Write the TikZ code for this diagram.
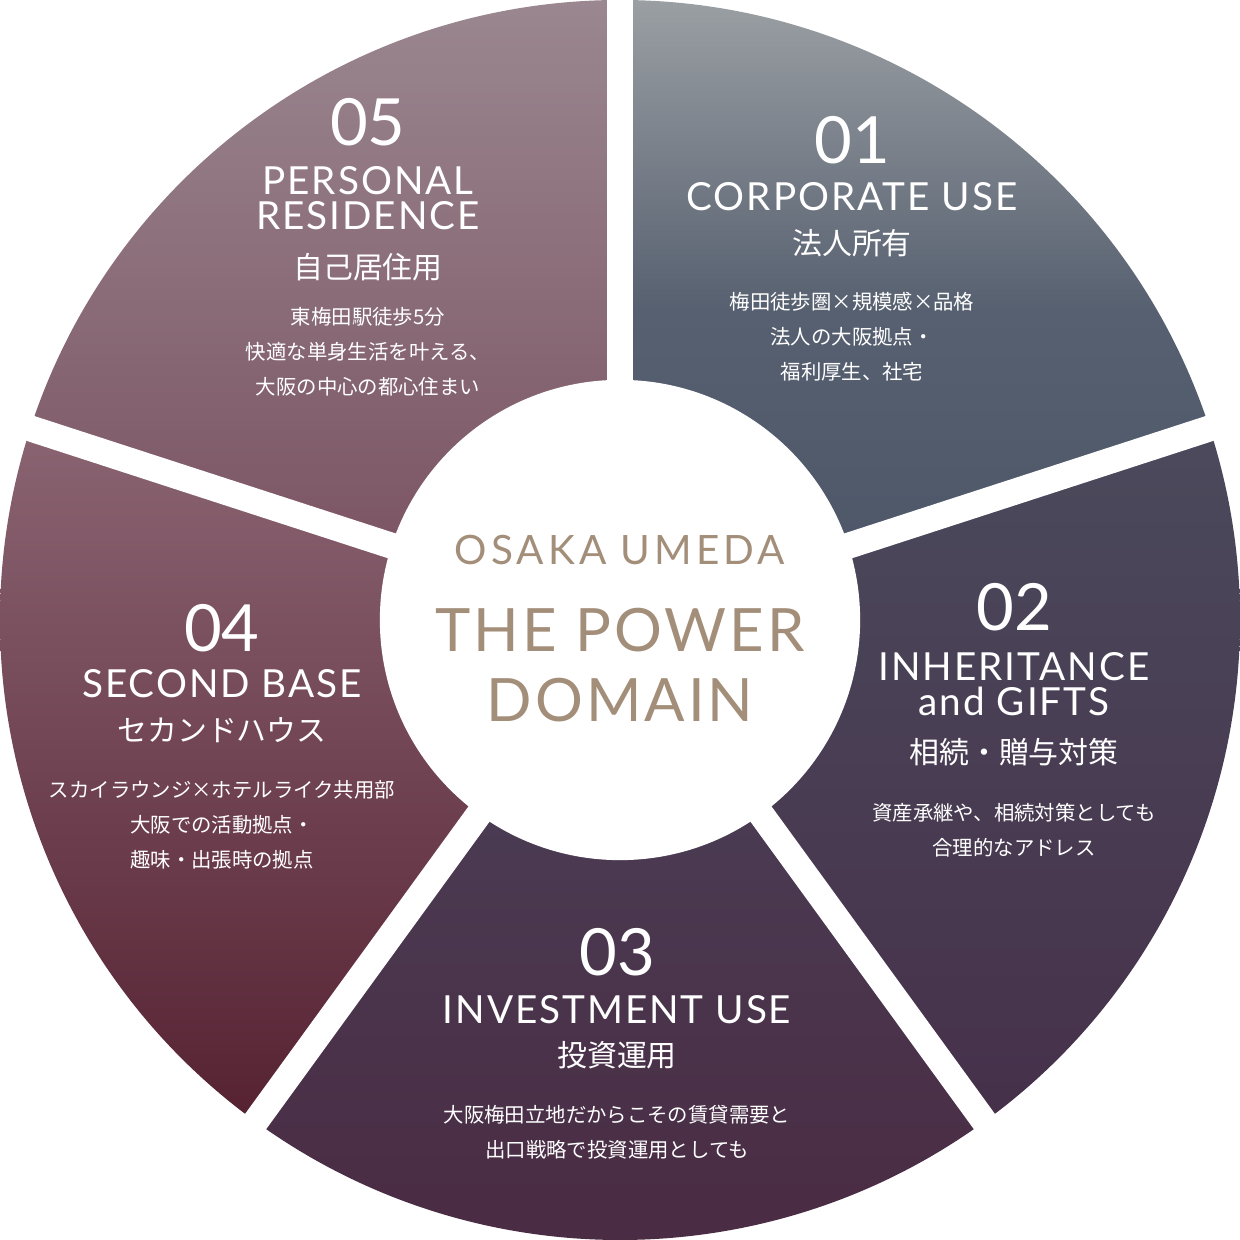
\documentclass[tikz,border=0pt]{standalone}
\usepackage{fontspec}
\setmainfont{Lato}
\newfontfamily\spaced[LetterSpace=10]{Lato}
\newfontfamily\spacedb[LetterSpace=5]{Lato}
\newfontfamily\cjk{Noto Sans CJK JP}
\begin{document}
\begin{tikzpicture}[x=0.01cm,y=0.01cm,
  num/.style={text=white,font=\fontsize{18.5}{18.5}\selectfont},
  ttl/.style={text=white,font=\spacedb\fontsize{11}{11}\selectfont,align=center},
  jp/.style={text=white,font=\cjk\fontsize{8.5}{9}\selectfont},
  sm/.style={text=white,font=\cjk\fontsize{5.8}{10}\selectfont,align=center},
  ctr/.style={text={rgb,255:red,163;green,142;blue,122}}]
\useasboundingbox (-620,-620) rectangle (620,620);
\definecolor{aT}{HTML}{9A9FA3}\definecolor{aB}{HTML}{4B5567}
\definecolor{bT}{HTML}{4B4A5C}\definecolor{bB}{HTML}{46304A}
\definecolor{cT}{HTML}{4A4259}\definecolor{cB}{HTML}{4A2A42}
\definecolor{dT}{HTML}{8A6472}\definecolor{dB}{HTML}{562232}
\definecolor{eT}{HTML}{9A8790}\definecolor{eB}{HTML}{784E5E}
\shade[top color=aT,bottom color=aB,middle color=aB!85!aT] (0,0)--(18:620) arc[start angle=18,end angle=90,radius=620]--cycle;
\shade[top color=bT,bottom color=bB] (0,0)--(-54:620) arc[start angle=-54,end angle=18,radius=620]--cycle;
\shade[top color=cT,bottom color=cB] (0,0)--(-126:620) arc[start angle=-126,end angle=-54,radius=620]--cycle;
\shade[top color=dT,bottom color=dB] (0,0)--(162:620) arc[start angle=162,end angle=234,radius=620]--cycle;
\shade[top color=eT,bottom color=eB] (0,0)--(90:620) arc[start angle=90,end angle=162,radius=620]--cycle;
\coordinate (o) at (0,0);
\foreach \a/\n in {90/g1,18/g2,-54/g3,-126/g4,162/g5}{\coordinate (\n) at (\a:660); \draw[white,line width=0.26cm] (o)--(\n);}
\node[circle,fill=white,minimum size=4.8cm,inner sep=0] (c) at (0,0) {};
% center
\node[ctr,font=\spaced\fontsize{11.5}{11.5}\selectfont] (t1) at (0,70) {OSAKA UMEDA};
\node[ctr,font=\spacedb\fontsize{17}{17}\selectfont] (t2) at (0,-10) {THE POWER};
\node[ctr,font=\spacedb\fontsize{17}{17}\selectfont] (t3) at (0,-80) {DOMAIN};
% 05
\node[num] (n5) at ({368-620},{620-122}) {05};
\node[ttl] (h5) at ({368-620},{620-198}) {PERSONAL\\[-1pt]RESIDENCE};
\node[jp] (j5) at ({368-620},{620-267}) {自己居住用};
\node[sm] (s5) at ({368-620},{620-352}) {東梅田駅徒歩5分\\快適な単身生活を叶える、\\大阪の中心の都心住まい};
% 01
\node[num] (n1) at ({852-620},{620-140}) {01};
\node[ttl] (h1) at ({852-620},{620-197}) {CORPORATE USE};
\node[jp] (j1) at ({852-620},{620-243}) {法人所有};
\node[sm] (s1) at ({852-620},{620-337}) {梅田徒歩圏×規模感×品格\\法人の大阪拠点・\\福利厚生、社宅};
% 02
\node[num] (n2) at ({1014-620},{620-607}) {02};
\node[ttl] (h2) at ({1014-620},{620-684}) {INHERITANCE\\[-1pt]and GIFTS};
\node[jp] (j2) at ({1014-620},{620-752}) {相続・贈与対策};
\node[sm] (s2) at ({1014-620},{620-830}) {資産承継や、相続対策としても\\合理的なアドレス};
% 03
\node[num] (n3) at ({617-620},{620-952}) {03};
\node[ttl] (h3) at ({617-620},{620-1010}) {INVESTMENT USE};
\node[jp] (j3) at ({617-620},{620-1055}) {投資運用};
\node[sm] (s3) at ({617-620},{620-1132}) {大阪梅田立地だからこその賃貸需要と\\出口戦略で投資運用としても};
% 04
\node[num] (n4) at ({222-620},{620-628}) {04};
\node[ttl] (h4) at ({222-620},{620-684}) {SECOND BASE};
\node[jp] (j4) at ({222-620},{620-730}) {セカンドハウス};
\node[sm] (s4) at ({222-620},{620-825}) {スカイラウンジ×ホテルライク共用部\\大阪での活動拠点・\\趣味・出張時の拠点};
\end{tikzpicture}
\end{document}
